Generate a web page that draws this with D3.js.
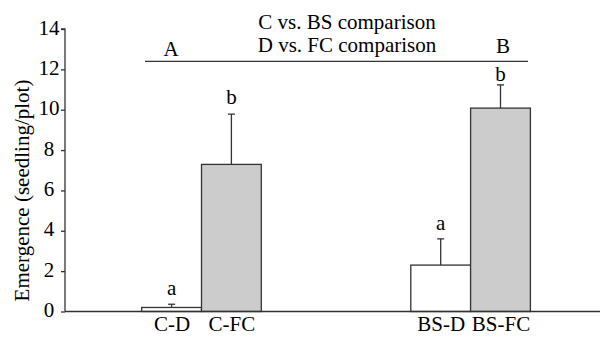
<!DOCTYPE html>
<html><head><meta charset="utf-8">
<script src="https://cdn.jsdelivr.net/npm/d3@7"></script>
<style>body{margin:0;background:#fff}svg{display:block}text{font-family:"Liberation Serif","Times New Roman","DejaVu Serif",serif;fill:#000}</style>
</head><body>
<script>
const categories = ["C-D","C-FC","BS-D","BS-FC"];
const means = [0.2, 7.29, 2.3, 10.08];
const errors = [0.16, 2.49, 1.3, 1.15];
const letters = ["a","b","a","b"];
const fills = ["#ffffff","#cccccc","#ffffff","#cccccc"];
const yTicks = [0,2,4,6,8,10,12,14];
const groupLabels = ["A","B"];
const comparisonLine = 12.4;
const titles = ["C vs. BS comparison","D vs. FC comparison"];

const W=604,H=337;
const svg=d3.select("body").append("svg").attr("width",W).attr("height",H);
const x0=65, yBase=311.5, yTop=29;
const y=d3.scaleLinear().domain([0,14]).range([yBase,yTop]);
// bar slot positions (in bar widths) -> pixels
const slotPos=[0,1,4.5,5.5];
const bw=59.8;
const xs=d3.scaleLinear().domain([0,1]).range([141.7,141.7+bw]);
const bx=i=>xs(slotPos[i]);

// bars
svg.selectAll("rect.bar").data(categories).join("rect")
  .attr("x",(d,i)=>bx(i)).attr("y",(d,i)=>y(means[i])).attr("width",bw)
  .attr("height",(d,i)=>yBase-y(means[i]))
  .attr("fill",(d,i)=>fills[i]).attr("stroke","#333").attr("stroke-width",1.3);

// error bars + letters
const letterGap=[9,10,9,4];
categories.forEach((d,i)=>{
  const cx=bx(i)+bw/2, ty=y(means[i]+errors[i]);
  svg.append("line").attr("x1",cx).attr("x2",cx).attr("y1",y(means[i])).attr("y2",ty).attr("stroke","#333").attr("stroke-width",1.3);
  svg.append("line").attr("x1",cx-3.5).attr("x2",cx+3.5).attr("y1",ty).attr("y2",ty).attr("stroke","#333").attr("stroke-width",1.3);
  svg.append("text").attr("x",cx).attr("y",ty-letterGap[i]).attr("text-anchor","middle").attr("font-size",21).text(letters[i]);
});

// y axis
const ya=svg.append("g").attr("transform",`translate(${x0},0)`).call(d3.axisLeft(y).tickValues(yTicks).tickSize(4).tickFormat(d3.format("d")));
ya.attr("font-family",null);
ya.select(".domain").attr("stroke","#333").attr("stroke-width",1.3).attr("d",`M-4,${yTop}H0V${yBase}`);
ya.selectAll(".tick line").attr("stroke","#333").attr("stroke-width",1.3);
ya.selectAll(".tick text").attr("font-size",21).attr("fill","#000").attr("text-anchor","middle").attr("x",-16).attr("dy","0.24em");

// x axis baseline with category labels
const xb=d3.scalePoint().domain(categories).range([bx(0)+bw/2,bx(3)+bw/2]);
const xPos=categories.map((d,i)=>bx(i)+bw/2);
const xa=svg.append("g").attr("transform",`translate(0,${yBase})`)
  .call(d3.axisBottom(d3.scaleOrdinal().domain(categories).range(xPos)).tickValues(categories).tickSize(0).tickPadding(5));
xa.attr("font-family",null);
xa.select(".domain").attr("stroke","#333").attr("stroke-width",1.3).attr("d",`M${x0},0H600`);
xa.selectAll(".tick text").attr("font-size",21).attr("fill","#000");

// y label
svg.append("text").attr("transform",`translate(28.5,190.5) rotate(-90)`).attr("text-anchor","middle").attr("font-size",21).text("Emergence (seedling/plot)");

// comparison line
svg.append("line").attr("x1",145).attr("x2",528).attr("y1",y(comparisonLine)).attr("y2",y(comparisonLine)).attr("stroke","#333").attr("stroke-width",1.3);
svg.append("text").attr("x",171).attr("y",y(comparisonLine)-5).attr("text-anchor","middle").attr("font-size",21).text(groupLabels[0]);
svg.append("text").attr("x",503).attr("y",y(comparisonLine)-8).attr("text-anchor","middle").attr("font-size",21).text(groupLabels[1]);
svg.append("text").attr("x",347).attr("y",28.5).attr("text-anchor","middle").attr("font-size",21).text(titles[0]);
svg.append("text").attr("x",347).attr("y",52).attr("text-anchor","middle").attr("font-size",21).text(titles[1]);
</script>
</body></html>
